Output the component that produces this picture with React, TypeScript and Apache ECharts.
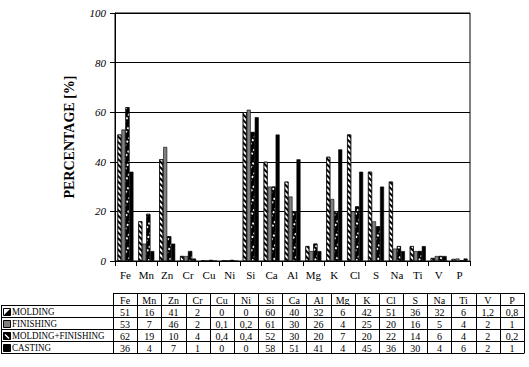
import React, { useEffect, useRef } from "react";
import * as echarts from "echarts";

const categories = ["Fe", "Mn", "Zn", "Cr", "Cu", "Ni", "Si", "Ca", "Al", "Mg", "K", "Cl", "S", "Na", "Ti", "V", "P"];
const seriesNames = ["MOLDING", "FINISHING", "MOLDING+FINISHING", "CASTING"];
const molding = [51, 16, 41, 2, 0, 0, 60, 40, 32, 6, 42, 51, 36, 32, 6, 1.2, 0.8];
const finishing = [53, 7, 46, 2, 0.1, 0.2, 61, 30, 26, 4, 25, 20, 16, 5, 4, 2, 1];
const moldingFinishing = [62, 19, 10, 4, 0.4, 0.4, 52, 30, 20, 7, 20, 22, 14, 6, 4, 2, 0.2];
const casting = [36, 4, 7, 1, 0, 0, 58, 51, 41, 4, 45, 36, 30, 4, 6, 2, 1];
const yTickValues = [0, 20, 40, 60, 80, 100];

const SERIF = "Liberation Serif";

function fmt(v: number) {
  return String(v).replace(".", ",");
}

export default function App() {
  const ref = useRef<HTMLDivElement>(null);
  useEffect(() => {
    if (!ref.current) return;
    const chart = echarts.init(ref.current, null, { renderer: "svg" });
    const allData = [molding, finishing, moldingFinishing, casting];

    const decals: any[] = [
      {
        symbol: "rect",
        symbolSize: 1,
        dashArrayX: [1, 0],
        dashArrayY: [1.5, 1.5],
        rotation: Math.PI / 4,
        color: "#000",
      },
      null,
      {
        symbol: "rect",
        symbolSize: 1,
        dashArrayX: [2, 2],
        dashArrayY: [1.5, 3.5],
        rotation: -Math.PI / 3,
        color: "#fff",
      },
      null,
    ];
    const fills = ["#fff", "#808080", "#000", "#000"];

    const series = allData.map((d, i) => ({
      name: seriesNames[i],
      type: "bar",
      data: d,
      barWidth: 4,
      barGap: "0%",
      itemStyle: {
        color: fills[i],
        borderColor: "#000",
        borderWidth: 0.6,
        decal: decals[i] || undefined,
      },
    }));

    const tX0 = 113;
    const tX1 = 524;
    const colW = (tX1 - tX0) / categories.length;
    const rowTop = 293;
    const rowH = 12;
    const legX0 = 1;
    const g: any[] = [];
    const lineStyle = { stroke: "#000", lineWidth: 1 };
    const txt = (text: string, x: number, y: number, align: string, sx = 1) => ({
      type: "text",
      x,
      y,
      scaleX: sx,
      style: {
        text,
        fill: "#000",
        fontFamily: SERIF,
        fontSize: 10,
        align,
        verticalAlign: "middle",
      },
      silent: true,
    });
    for (let r = 0; r <= 5; r++) {
      const y = Math.round(rowTop + r * rowH) + 0.5;
      g.push({
        type: "line",
        shape: { x1: r === 0 ? tX0 : legX0, y1: y, x2: tX1, y2: y },
        style: lineStyle,
        silent: true,
      });
    }
    for (let c = 0; c <= categories.length; c++) {
      const x = Math.round(tX0 + c * colW) + 0.5;
      g.push({
        type: "line",
        shape: { x1: x, y1: rowTop, x2: x, y2: rowTop + 5 * rowH + 0.5 },
        style: lineStyle,
        silent: true,
      });
    }
    g.push({
      type: "line",
      shape: { x1: legX0 + 0.5, y1: rowTop + rowH, x2: legX0 + 0.5, y2: rowTop + 5 * rowH + 0.5 },
      style: lineStyle,
      silent: true,
    });
    categories.forEach((c, i) => {
      g.push(txt(c, tX0 + (i + 0.5) * colW, rowTop + rowH / 2 + 1, "center"));
    });
    allData.forEach((d, r) => {
      const cy = rowTop + (r + 1) * rowH + rowH / 2 + 1;
      const ix = 3;
      const iy = Math.round(cy - 4) + 0.5;
      g.push({
        type: "rect",
        shape: { x: ix + 0.5, y: iy, width: 7, height: 7 },
        style: { fill: fills[r], stroke: "#000", lineWidth: 1 },
        silent: true,
      });
      if (r === 0) {
        g.push({
          type: "polygon",
          shape: { points: [[ix + 0.5, iy + 7], [ix + 7.5, iy], [ix + 7.5, iy + 7]] },
          style: { fill: "#000" },
          silent: true,
        });
      }
      if (r === 2) {
        g.push({
          type: "line",
          shape: { x1: ix + 2, y1: iy + 2, x2: ix + 6, y2: iy + 6 },
          style: { stroke: "#fff", lineWidth: 1.5 },
          silent: true,
        });
      }
      g.push(txt(seriesNames[r], 12, cy, "left", 0.9));
      d.forEach((v, i) => {
        g.push(txt(fmt(v), tX0 + (i + 0.5) * colW, cy, "center"));
      });
    });

    chart.setOption({
      animation: false,
      backgroundColor: "#fff",
      grid: {
        left: 115,
        right: 59,
        top: 13,
        bottom: 106,
        show: true,
        borderColor: "#000",
        borderWidth: 1,
        containLabel: false,
      },
      xAxis: {
        type: "category",
        data: categories,
        axisLine: { lineStyle: { color: "#000", width: 1 } },
        axisTick: { show: true, length: 5, lineStyle: { color: "#000" } },
        axisLabel: { color: "#000", fontFamily: SERIF, fontSize: 11, margin: 8, interval: 0 },
      },
      yAxis: {
        type: "value",
        min: 0,
        max: 100,
        interval: yTickValues[1] - yTickValues[0],
        name: "PERCENTAGE [%]",
        nameLocation: "middle",
        nameGap: 39,
        nameTextStyle: { color: "#000", fontFamily: SERIF, fontSize: 14, fontWeight: "bold" },
        axisLine: { show: true, lineStyle: { color: "#000", width: 1 } },
        axisTick: { show: true, length: 5, lineStyle: { color: "#000" } },
        axisLabel: { color: "#000", fontFamily: SERIF, fontSize: 11, fontStyle: "italic", margin: 9 },
        splitLine: { show: true, lineStyle: { color: "#000", width: 1 } },
      },
      series,
      graphic: g,
    });
    return () => chart.dispose();
  }, []);
  return (
    <div
      ref={ref}
      style={{ position: "fixed", left: 0, top: 0, width: 529, height: 367, background: "#fff" }}
    />
  );
}
